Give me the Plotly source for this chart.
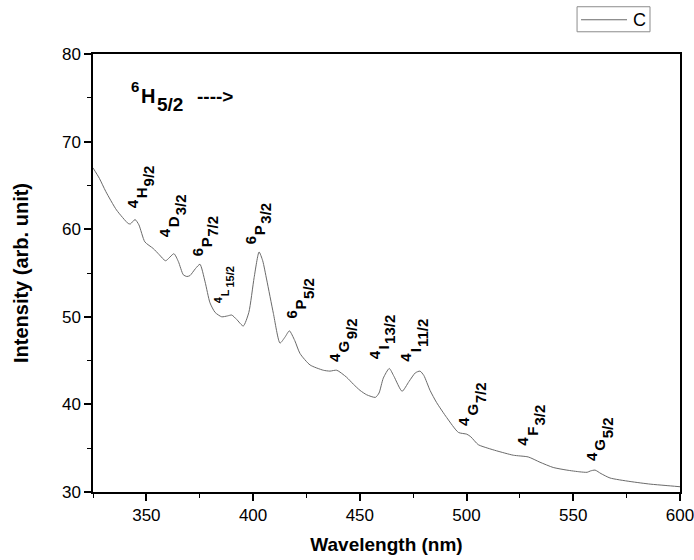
import plotly.graph_objects as go

wavelength = [325, 328, 331, 336, 341.5, 342.5, 344.7, 346.5, 349.3, 353.2, 356, 359, 362.9, 365, 367.3,
              369, 370.4, 373, 375.1, 377.5, 379.8, 382.2, 385.3, 388, 390, 392.3, 395.4, 398, 400.5,
              402.8, 404.5, 406.4, 409.5, 412.6, 415, 417, 419.5, 422, 426.7, 432.9, 436, 439.2, 443.8,
              447, 450.1, 453.2, 457.3, 459, 461, 463.8, 466, 469.8, 473, 476, 478.2, 480, 482.9, 486,
              490.7, 496.2, 500.1, 502, 505.5, 510, 514.1, 521.9, 528.9, 534.4, 540.6, 547, 553.1, 556.5,
              558, 560.2, 563, 567.2, 576.6, 586, 593, 600]
intensity = [67.0, 65.8, 64.3, 62.2, 60.65, 60.6, 61.1, 60.5, 58.55, 57.8, 57.1, 56.4, 57.2, 56.3, 54.8,
             54.6, 54.7, 55.5, 56.0, 54.0, 51.6, 50.5, 50.0, 50.1, 50.2, 49.7, 48.95, 50.5, 54.5,
             57.4, 56.4, 54.2, 50.4, 47.0, 47.7, 48.4, 47.3, 45.8, 44.5, 43.9, 43.8, 43.9, 43.1,
             42.3, 41.6, 41.1, 40.8, 41.3, 43.0, 44.1, 43.2, 41.5, 42.6, 43.6, 43.8, 43.3, 41.6, 40.2,
             38.5, 36.8, 36.6, 36.3, 35.4, 35.0, 34.7, 34.2, 34.0, 33.4, 32.8, 32.5, 32.3, 32.25,
             32.4, 32.5, 32.1, 31.6, 31.2, 30.9, 30.75, 30.6]
series_name = "C"

# term-symbol labels: superscript, letter, subscript
label_sup = ["4", "4", "6", "4", "6", "6", "4", "4", "4", "4", "4", "4"]
label_letter = ["H", "D", "P", "L", "P", "P", "G", "I", "I", "G", "F", "G"]
label_sub = ["9/2", "3/2", "7/2", "15/2", "3/2", "5/2", "9/2", "13/2", "11/2", "7/2", "3/2", "5/2"]
label_x = [347.5, 362.5, 377.9, 386.8, 402.8, 422.4, 442.6, 460.9, 475.9, 503.0, 530.7, 562.5]
label_y = [64.1, 60.8, 58.5, 52.8, 59.9, 51.4, 46.6, 46.5, 46.2, 39.4, 36.9, 35.4]
label_scale = [1, 1, 1, 0.75, 1, 1, 1, 1, 1, 1, 1, 1]

FONT = "Arial, Liberation Sans, sans-serif"
LETTER_W = {"H": 0.722, "D": 0.722, "P": 0.667, "L": 0.611, "G": 0.778, "I": 0.278, "F": 0.611}

fig = go.Figure()
fig.add_trace(go.Scatter(x=wavelength, y=intensity, mode="lines", name=series_name, showlegend=False,
                         line=dict(color="#6a6a6a", width=1, shape="spline", smoothing=0.6)))


def ann(**kw):
    base = dict(showarrow=False, borderpad=0, borderwidth=0)
    base.update(kw)
    fig.add_annotation(**base)


for sp, lt, sb, x, y, sc in zip(label_sup, label_letter, label_sub, label_x, label_y, label_scale):
    main_size = round(15 * sc)
    half = LETTER_W[lt] * main_size / 2
    ann(x=x, y=y, text="<b>" + lt + "</b>", textangle=-90,
        font=dict(family=FONT, size=main_size, color="black"), xanchor="center", yanchor="middle")
    ann(x=x, y=y, text="<b>" + sp + "</b>", textangle=-90, xshift=-9 * sc, yshift=-(half + 1),
        font=dict(family=FONT, size=round(15 * sc), color="black"), xanchor="center", yanchor="top")
    ann(x=x, y=y, text="<b>" + sb + "</b>", textangle=-90, xshift=7 * sc, yshift=half + 1,
        font=dict(family=FONT, size=round(15 * sc), color="black"), xanchor="center", yanchor="bottom")

# "6H5/2 ---->" heading (paper coordinates)
X0, Y0, W, H = 92.7, 491.7, 587.3, 437.5


def px(x, y):
    return (x - X0) / W, (Y0 - y) / H


for txt, cx, cy, size in [("6", 135, 87, 15), ("H", 147.5, 96.5, 20), ("5/2", 170, 105, 19),
                          ("---->", 215, 97, 19)]:
    xp, yp = px(cx, cy)
    ann(x=xp, y=yp, xref="paper", yref="paper", text="<b>" + txt + "</b>",
        font=dict(family=FONT, size=size, color="black"), xanchor="center", yanchor="middle")

# legend box drawn by hand
bx0, by0 = px(577, 32)
bx1, by1 = px(650, 7)
lx0, ly = px(581, 20)
lx1, _ = px(627, 20)
tx, _ = px(633, 20)
fig.add_shape(type="rect", xref="paper", yref="paper", x0=bx0, y0=by0, x1=bx1, y1=by1,
              line=dict(color="#8c8c8c", width=1), fillcolor="white")
fig.add_shape(type="line", xref="paper", yref="paper", x0=lx0, y0=ly, x1=lx1, y1=ly,
              line=dict(color="#6a6a6a", width=1))
ann(x=tx, y=ly, xref="paper", yref="paper", text=series_name,
    font=dict(family=FONT, size=18, color="black"), xanchor="left", yanchor="middle")

axis_common = dict(showline=True, linecolor="black", linewidth=1.5, mirror=True, ticks="outside",
                   ticklen=7, tickwidth=1.5, tickcolor="black", showgrid=False, zeroline=False,
                   automargin=False, tickfont=dict(family=FONT, size=17, color="black"))

fig.update_xaxes(range=[325, 600], tickvals=[350, 400, 450, 500, 550, 600], ticklabeloverflow="allow",
                 minor=dict(ticks="outside", ticklen=4, tickwidth=1, tickcolor="black", dtick=25, tick0=325),
                 title=dict(text="<b>Wavelength (nm)</b>", font=dict(family=FONT, size=19, color="black"),
                            standoff=14),
                 **axis_common)
fig.update_yaxes(range=[30, 80], dtick=10,
                 minor=dict(ticks="outside", ticklen=4, tickwidth=1, tickcolor="black", dtick=5),
                 title=dict(text="<b>Intensity (arb. unit)</b>", font=dict(family=FONT, size=20, color="black"),
                            standoff=28),
                 **axis_common)

fig.update_layout(width=694, height=560, margin=dict(l=93, r=14, t=54, b=68),
                  plot_bgcolor="white", paper_bgcolor="white", showlegend=False)

fig.write_html("out.html")
